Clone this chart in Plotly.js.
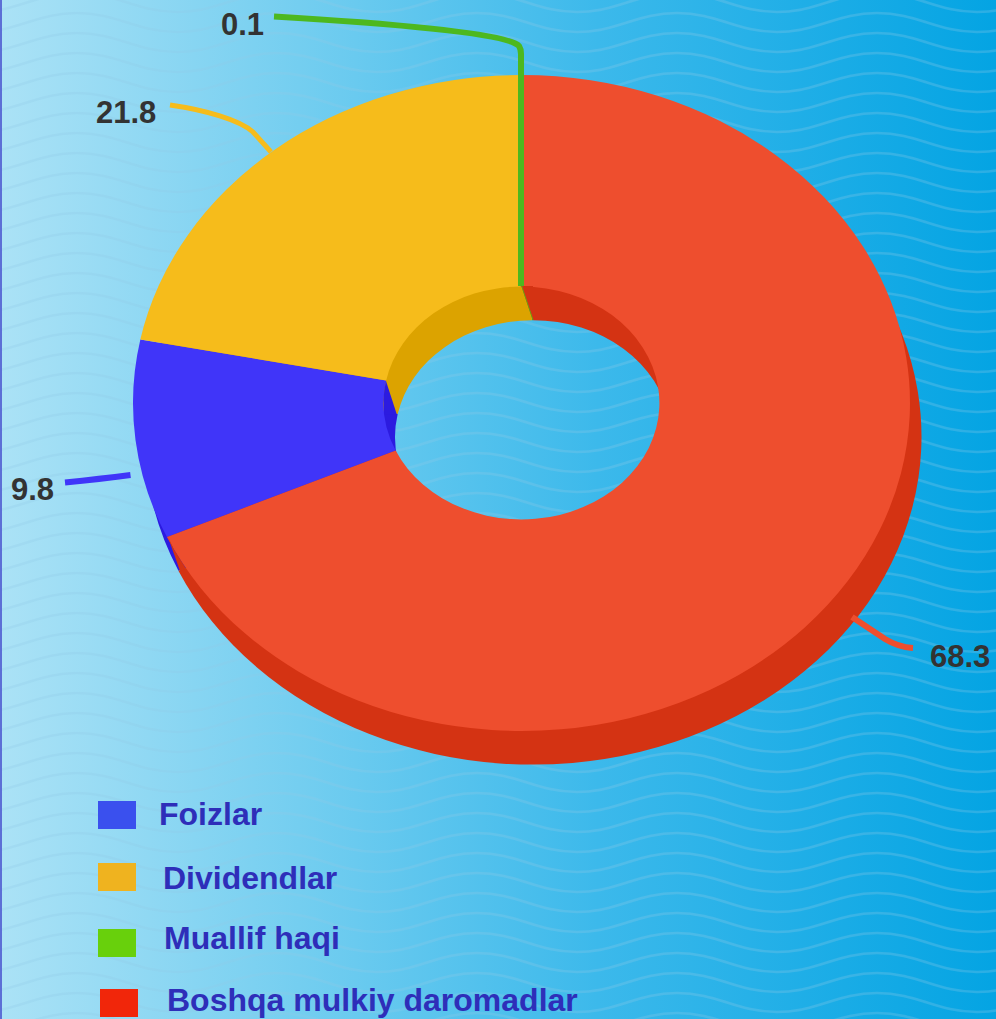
<!DOCTYPE html>
<html>
<head>
<meta charset="utf-8">
<script src="https://cdn.plot.ly/plotly-3.0.1.min.js"></script>
<style>
html,body{margin:0;padding:0;width:996px;height:1019px;overflow:hidden}
#bg{position:absolute;left:0;top:0;width:996px;height:1019px;}
#chart{position:absolute;left:0;top:0;width:996px;height:1019px;}
#strip{position:absolute;left:0;top:0;width:2px;height:1019px;background:#5C6FD6}
</style>
</head>
<body>
<div id="bg"></div>
<div id="strip"></div>
<div id="chart"></div>
<script>
// ---- data ----
const categories = ['Foizlar', 'Dividendlar', 'Muallif haqi', 'Boshqa mulkiy daromadlar'];
const values = [9.8, 21.8, 0.1, 68.3];
const valueLabels = ['9.8', '21.8', '0.1', '68.3'];
const faceColors = ['#4035F9', '#F6BC1B', '#4DB81F', '#EE4E2E'];
const wallColors = ['#2C1BE0', '#DCA300', '#4E9A1F', '#D43313'];
const swatchColors = ['#3A50EE', '#EFB31F', '#68D00C', '#F1260A'];
const leaderColors = ['#4035F9', '#F6BC1B', '#4DB81F', '#EE4E2E'];

// ---- page geometry (pixels) ----
const W = 996, H = 1019;
const RX = 388.5, RY = 328, HOLE = 0.355;
const SQUASH = RY / RX;
const face = {cx: 521.5, cy: 403};
const wall = {cx: 533, cy: 436.6};
const labelPos = [[9, 489], [94, 112], [219, 24], [928, 656]];
const legendSwatch = [[98, 801], [98, 863], [98, 929], [100, 989]];
const legendText = [[157, 814], [161, 878], [162, 938], [165, 1000]];
const leaderPaths = [
  [['M', 65, 482.5], ['Q', 100, 479, 130.5, 475]],
  [['M', 170, 105], ['C', 205, 110, 240, 120, 253, 132], ['L', 271, 152]],
  [['M', 274, 16.5], ['C', 400, 24, 508, 34, 519, 46], ['Q', 521, 49, 521, 54], ['L', 521, 286]],
  [['M', 852, 617], ['L', 885, 639], ['Q', 898, 647, 913, 648]]
];
// where the side wall meets the top face: seams between neighbouring wall colours
const wallSeams = [
  {color: '#D43313', pts: [[521.5, 286], [533, 320], [533, 286]]},
  {color: '#2C1BE0', pts: [[386, 381], [397, 415], [384, 414], [383.5, 400], [384.3, 390]]},
  {color: '#D43313', pts: [[168, 537], [180, 571], [186, 568.5], [180, 559], [174, 549.5]]}
];

const fx = x => x / W, fy = y => 1 - y / H;

// background: gradient + tiled waves, drawn as an inline pattern
const ns = 'http://www.w3.org/2000/svg';
const waveLine = dy => `M-23 ${32+dy}C17 ${32+dy} 37 ${13+dy} 77 ${13+dy}C117 ${13+dy} 137 ${32+dy} 177 ${32+dy}C217 ${32+dy} 237 ${13+dy} 277 ${13+dy}`;
document.getElementById('bg').innerHTML =
  `<svg xmlns="${ns}" width="996" height="1019" style="display:block">
    <defs>
      <linearGradient id="g" x1="0" x2="1" y1="0" y2="0">
        <stop offset="0" stop-color="#ABE2F6"/><stop offset="0.3" stop-color="#74CEF0"/>
        <stop offset="0.6" stop-color="#3CB9EB"/><stop offset="1" stop-color="#04A4E3"/>
      </linearGradient>
      <pattern id="w" patternUnits="userSpaceOnUse" width="200" height="20">
        <path d="${[-40,-20,0,20].map(waveLine).join('')}" fill="none" stroke="#90C8E6" stroke-opacity="0.28" stroke-width="2.6"/>
      </pattern>
    </defs>
    <rect width="996" height="1019" fill="url(#g)"/>
    <rect width="996" height="1019" fill="url(#w)"/>
  </svg>`;

// pie drawn on a circle; the pie layer is then squashed vertically for the tilted look
const total = values.reduce((a, b) => a + b, 0);
const startAngle = 360 * values[3] / total;
function pieTrace(c, colors) {
  const yc = c.cy / SQUASH;
  return {
    type: 'pie', labels: categories, values: values, sort: false,
    direction: 'clockwise', rotation: startAngle, hole: HOLE,
    textinfo: 'none', showlegend: false, automargin: false,
    marker: {colors: colors, line: {width: 0}},
    domain: {x: [fx(c.cx - RX), fx(c.cx + RX)], y: [fy(yc + RX), fy(yc - RX)]}
  };
}

const toPath = p => p.map(seg => {
  const out = [seg[0]];
  for (let i = 1; i < seg.length; i += 2) out.push(fx(seg[i]), fy(seg[i + 1]));
  return out.join(' ');
}).join(' ');

const shapes = [];
wallSeams.forEach(s => shapes.push({
  type: 'path', xref: 'paper', yref: 'paper', layer: 'above',
  path: 'M ' + s.pts.map(q => fx(q[0]) + ' ' + fy(q[1])).join(' L ') + ' Z',
  fillcolor: s.color, line: {width: 0}
}));
leaderPaths.forEach((p, i) => shapes.push({
  type: 'path', xref: 'paper', yref: 'paper', layer: 'above', path: toPath(p),
  line: {color: leaderColors[i], width: i === 1 ? 5 : 6}, fillcolor: 'rgba(0,0,0,0)'
}));
// seam of the thin green slice on the inner wall
shapes.push({type: 'line', xref: 'paper', yref: 'paper', layer: 'above',
  x0: fx(521.5), y0: fy(285.5), x1: fx(533), y1: fy(320), line: {color: '#6E9A12', width: 1}});
legendSwatch.forEach((s, i) => shapes.push({
  type: 'rect', xref: 'paper', yref: 'paper', layer: 'above',
  x0: fx(s[0]), x1: fx(s[0] + 38), y0: fy(s[1]), y1: fy(s[1] + 28),
  fillcolor: swatchColors[i], line: {width: 0}
}));

const annotations = [];
valueLabels.forEach((t, i) => annotations.push({
  xref: 'paper', yref: 'paper', x: fx(labelPos[i][0]), y: fy(labelPos[i][1]),
  xanchor: 'left', yanchor: 'middle', text: t, showarrow: false,
  font: {family: 'Liberation Sans, Arial, sans-serif', size: 31, weight: 700, color: '#333333'}
}));
categories.forEach((t, i) => annotations.push({
  xref: 'paper', yref: 'paper', x: fx(legendText[i][0]), y: fy(legendText[i][1]),
  xanchor: 'left', yanchor: 'middle', text: t, showarrow: false,
  font: {family: 'Liberation Sans, Arial, sans-serif', size: 32, weight: 700, color: '#2E2EB9'}
}));

Plotly.newPlot('chart', [pieTrace(wall, wallColors), pieTrace(face, faceColors)], {
  width: W, height: H, margin: {l: 0, r: 0, t: 0, b: 0},
  paper_bgcolor: 'rgba(0,0,0,0)', plot_bgcolor: 'rgba(0,0,0,0)',
  showlegend: false, shapes: shapes, annotations: annotations
}, {displayModeBar: false, staticPlot: true}).then(gd => {
  gd.querySelectorAll('.pielayer').forEach(el => el.setAttribute('transform', `scale(1,${SQUASH})`));
});
</script>
</body>
</html>
